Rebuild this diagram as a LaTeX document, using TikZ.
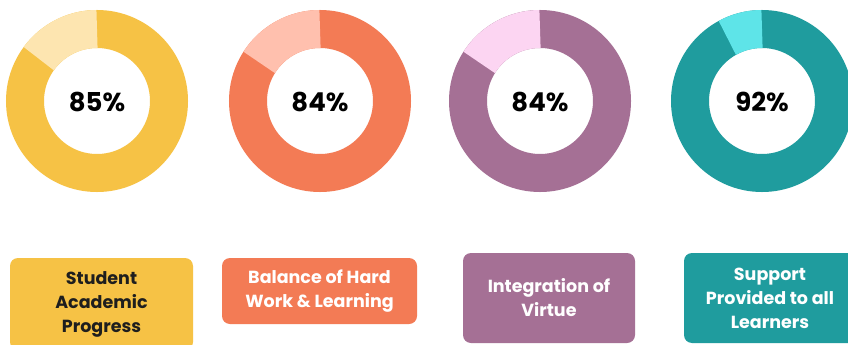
\documentclass[tikz,border=0pt]{standalone}
\usepackage{fontspec}
\setmainfont{Poppins}
\definecolor{yel}{HTML}{F6C245}
\definecolor{yell}{HTML}{FDE5B0}
\definecolor{ora}{HTML}{F37B55}
\definecolor{oral}{HTML}{FFC0AE}
\definecolor{pur}{HTML}{A57095}
\definecolor{purl}{HTML}{FCD5F2}
\definecolor{tea}{HTML}{1F9C9E}
\definecolor{teal2}{HTML}{5EE4E8}
\definecolor{ink}{HTML}{1E1E1E}
\tikzset{
  ring/.style={line width=38pt, line cap=butt},
  pct/.style={font=\fontsize{26}{30}\selectfont\bfseries, text=black},
  label/.style={rounded corners=8pt, align=center, inner sep=0pt,
    font=\fontsize{17.5}{24}\selectfont\bfseries},
}
\newcommand{\donut}[4]{% center x, light fraction angle, dark color, light color
  \draw[ring, #3] (#1,101) circle[radius=72];
  \draw[ring, #4] (#1,101) ++(270-#2:72) arc[start angle=270-#2, end angle=270, radius=72];
}
\begin{document}
\begin{tikzpicture}[x=1pt,y=-1pt]
\useasboundingbox (0,0) rectangle (848,345);
\fill[white] (0,0) rectangle (848,345);
\donut{97}{54}{yel}{yell}
\donut{320}{57.6}{ora}{oral}
\donut{540}{57.6}{pur}{purl}
\donut{762}{28.8}{tea}{teal2}
\node[pct] (p1) at (97,102) {85\%};
\node[pct] (p2) at (320,102) {84\%};
\node[pct] (p3) at (540,102) {84\%};
\node[pct] (p4) at (762,102) {92\%};
\node[label, fill=yel, text=ink, minimum width=183pt, minimum height=92pt] (b1) at (101.5,304) {Student\\Academic\\Progress};
\node[label, fill=ora, text=white, minimum width=195pt, minimum height=66pt] (b2) at (319.5,291) {Balance of Hard\\Work \& Learning};
\node[label, fill=pur, text=white, minimum width=172pt, minimum height=90pt] (b3) at (549,298) {Integration of\\Virtue};
\node[label, fill=tea, text=white, minimum width=172pt, minimum height=90pt] (b4) at (770,298) {Support\\Provided to all\\Learners};
\end{tikzpicture}
\end{document}
